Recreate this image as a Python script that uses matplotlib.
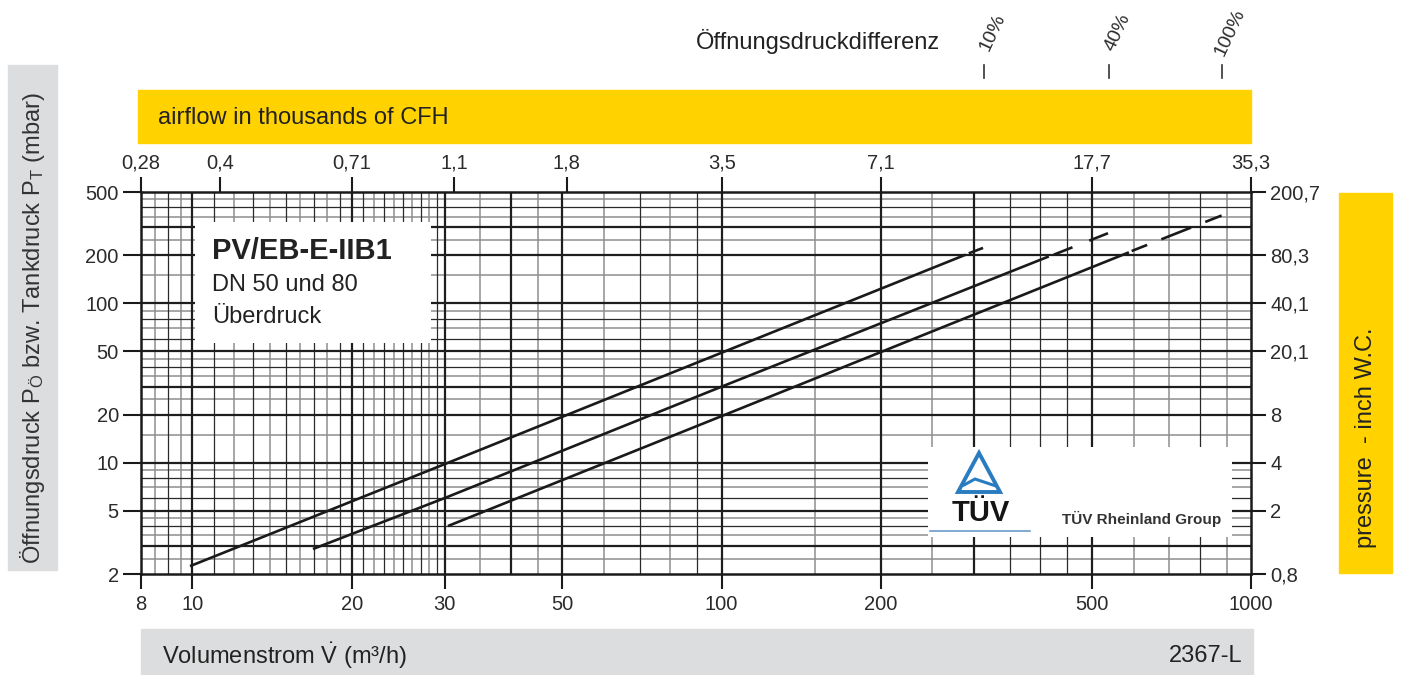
import numpy as np
import matplotlib
matplotlib.use('Agg')
import matplotlib.pyplot as plt
from matplotlib.patches import Rectangle, Polygon
from matplotlib import transforms
from matplotlib.ticker import FixedLocator, NullLocator, FixedFormatter

plt.rcParams['font.family'] = ['Liberation Sans', 'DejaVu Sans']
plt.rcParams['mathtext.fontset'] = 'custom'
plt.rcParams['mathtext.rm'] = 'Liberation Sans'
plt.rcParams['mathtext.default'] = 'regular'
plt.rcParams['lines.scale_dashes'] = False

# Values ######################################################
x_ticks = [8, 10, 20, 30, 50, 100, 200, 500, 1000]
x_labels = ['8', '10', '20', '30', '50', '100', '200', '500', '1000']
y_ticks = [2, 5, 10, 20, 50, 100, 200, 500]
y_labels = ['2', '5', '10', '20', '50', '100', '200', '500']
y_right_labels = ['0,8', '2', '4', '8', '20,1', '40,1', '80,3', '200,7']
top_ticks = [8, 11.3, 20, 31.2, 51, 100, 200, 500, 1000]
top_labels = ['0,28', '0,4', '0,71', '1,1', '1,8', '3,5', '7,1', '17,7', '35,3']

# log paper grid
x_grid_major = [10, 20, 30, 40, 50, 100, 200, 300, 500]
x_grid_black = [9, 11, 13, 15, 17, 19, 21, 23, 25, 27, 29, 70, 90, 350, 400, 450, 800]
x_grid_grey = [8.5, 9.5, 12, 14, 16, 18, 22, 24, 26, 28, 35, 45, 60, 80, 150, 250,
               600, 700, 900]
y_grid_major = [3, 5, 10, 20, 30, 50, 100, 200, 300]
y_grid_black = [4, 6, 8, 40, 60, 80, 400]
y_grid_grey = [2.5, 3.5, 4.5, 7, 9, 15, 25, 35, 45, 70, 90, 150, 250, 350, 450]

# curves: solid part and dashed end part
pct_labels = ['10%', '40%', '100%']
c10_x = [9.9, 30, 100, 289]
c10_y = [2.24, 9.8, 49, 202]
c10_dx = [293, 313]
c10_dy = [206, 224]
c40_x = [16.9, 30, 100, 415]
c40_y = [2.87, 6.0, 30, 197]
c40_dx = [424, 539]
c40_dy = [202, 277]
c100_x = [30.4, 100, 200, 588]
c100_y = [4.0, 19.6, 49.5, 209]
c100_dx = [595, 880]
c100_dy = [213, 356]
###############################################################

W, H = 1403, 675
fig = plt.figure(figsize=(W/100, H/100), dpi=100)

def fx(px):
    return px/W
def fy(py):
    return 1-py/H

yellow = '#ffd200'
grey_box = '#dcddde'
txt = '#2b2b2b'
tick_fs = 14.5
lab_fs = 17

# background bands
fig.patches.append(Rectangle((fx(138), fy(143)), 1113/W, 53/H, color=yellow,
                             transform=fig.transFigure, zorder=0))
fig.patches.append(Rectangle((fx(1339), fy(573)), 53/W, 380/H, color=yellow,
                             transform=fig.transFigure, zorder=0))
fig.patches.append(Rectangle((fx(8), fy(570)), 49/W, 505/H, color=grey_box,
                             transform=fig.transFigure, zorder=0))
fig.patches.append(Rectangle((fx(141), 0), 1112/W, 46/H, color=grey_box,
                             transform=fig.transFigure, zorder=0))

ax = fig.add_axes([fx(141), fy(574), 1110/W, 382/H])
ax.set_xscale('log')
ax.set_yscale('log')
ax.set_xlim(8, 1000)
ax.set_ylim(2, 500)

# grid
for v in x_grid_grey:
    ax.axvline(v, color='#8e8e8e', lw=1.1, zorder=1)
for v in x_grid_black:
    ax.axvline(v, color='#2a2a2a', lw=0.9, zorder=1.1)
for v in x_grid_major:
    ax.axvline(v, color='#1e1e1e', lw=1.6, zorder=1.2)
for v in y_grid_grey:
    ax.axhline(v, color='#8e8e8e', lw=1.1, zorder=1)
for v in y_grid_black:
    ax.axhline(v, color='#2a2a2a', lw=0.9, zorder=1.1)
for v in y_grid_major:
    ax.axhline(v, color='#1e1e1e', lw=1.6, zorder=1.2)

# white boxes
ax.add_patch(Rectangle((0.0486, 0.6047), 0.2126, 0.3168, transform=ax.transAxes,
                       facecolor='white', edgecolor='none', zorder=2))
ax.add_patch(Rectangle((0.709, 0.0969), 0.2739, 0.2356, transform=ax.transAxes,
                       facecolor='white', edgecolor='none', zorder=2))

# curves
lc = '#1a1a1a'
ax.plot(c10_x, c10_y, color=lc, lw=1.9, zorder=4, solid_capstyle='butt')
ax.plot(c10_dx, c10_dy, color=lc, lw=1.9, zorder=4, ls=(0, (11, 20)))
ax.plot(c40_x, c40_y, color=lc, lw=1.9, zorder=4, solid_capstyle='butt')
ax.plot(c40_dx, c40_dy, color=lc, lw=1.9, zorder=4, ls=(0, (14.5, 13)))
ax.plot(c100_x, c100_y, color=lc, lw=1.9, zorder=4, solid_capstyle='butt')
ax.plot(c100_dx, c100_dy, color=lc, lw=1.9, zorder=4, ls=(0, (12, 11, 23, 11, 13, 20)))

for s in ax.spines.values():
    s.set_linewidth(1.8)
    s.set_color('#1a1a1a')
    s.set_zorder(5)

ax.xaxis.set_major_locator(FixedLocator(x_ticks))
ax.xaxis.set_major_formatter(FixedFormatter(x_labels))
ax.xaxis.set_minor_locator(NullLocator())
ax.yaxis.set_major_locator(FixedLocator(y_ticks))
ax.yaxis.set_major_formatter(FixedFormatter(y_labels))
ax.yaxis.set_minor_locator(NullLocator())
ax.tick_params(axis='x', direction='out', length=11, width=1.5, pad=4,
               labelsize=tick_fs, labelcolor=txt, color='#1a1a1a')
ax.tick_params(axis='y', direction='out', length=13, width=1.5, pad=3,
               labelsize=tick_fs, labelcolor=txt, color='#1a1a1a')

# top axis: airflow in thousands of CFH
axt = ax.twiny()
axt.set_xscale('log')
axt.set_xlim(8, 1000)
axt.xaxis.set_major_locator(FixedLocator(top_ticks))
axt.xaxis.set_major_formatter(FixedFormatter(top_labels))
axt.xaxis.set_minor_locator(NullLocator())
axt.tick_params(axis='x', direction='out', length=11, width=1.5, pad=3,
                labelsize=tick_fs, labelcolor=txt, color='#1a1a1a')
for s in axt.spines.values():
    s.set_visible(False)

# right axis: inch W.C.
axr = ax.twinx()
axr.set_yscale('log')
axr.set_ylim(2, 500)
axr.yaxis.set_major_locator(FixedLocator(y_ticks))
axr.yaxis.set_major_formatter(FixedFormatter(y_right_labels))
axr.yaxis.set_minor_locator(NullLocator())
axr.tick_params(axis='y', direction='out', length=11, width=1.5, pad=3,
                labelsize=tick_fs, labelcolor=txt, color='#1a1a1a')
for s in axr.spines.values():
    s.set_visible(False)

# chart title block
ax.text(0.064, 0.845, 'PV/EB-E-IIB1', transform=ax.transAxes, fontsize=21,
        fontweight='bold', color='#222222', va='center', zorder=6)
ax.text(0.064, 0.757, 'DN 50 und 80', transform=ax.transAxes, fontsize=17,
        color='#222222', va='center', zorder=6)
ax.text(0.064, 0.672, 'Überdruck', transform=ax.transAxes, fontsize=17,
        color='#222222', va='center', zorder=6)

# TUV logo (approximation)
blue = '#2a7cc0'
tri = Polygon([(fx(958), fy(492)), (fx(979), fy(453)), (fx(1000), fy(492))],
              closed=True, facecolor='none', edgecolor=blue, lw=2.8,
              transform=fig.transFigure, zorder=7)
fig.patches.append(tri)
fig.lines.append(plt.Line2D([fx(964), fx(975), fx(996)], [fy(485), fy(479), fy(486)],
                            color=blue, lw=2.2, transform=fig.transFigure, zorder=7))
fig.text(fx(981), fy(513), 'TÜV', fontsize=21, fontweight='bold', color='#151515',
         ha='center', va='center', zorder=7)
fig.lines.append(plt.Line2D([fx(930), fx(1030)], [fy(531), fy(531)], color='#6a9ccc',
                            lw=1.2, transform=fig.transFigure, zorder=7))
fig.text(fx(1142), fy(519), 'TÜV Rheinland Group', fontsize=11, fontweight='bold',
         color='#333333', ha='center', va='center', zorder=7)

# opening pressure difference markers
blend = transforms.blended_transform_factory(ax.transData, fig.transFigure)
ends = [c10_dx[-1], c40_dx[-1], c100_dx[-1]]
for xe, lbl in zip(ends, pct_labels):
    ax.plot([xe, xe], [fy(65), fy(78)], color='#333333', lw=1.2,
            transform=blend, clip_on=False)
    ax.annotate(lbl, xy=(xe, fy(32)), xycoords=blend, xytext=(6, 0),
                textcoords='offset points', rotation=65, ha='center',
                va='center', fontsize=14, color=txt, annotation_clip=False)

fig.text(fx(940), fy(42), 'Öffnungsdruckdifferenz', fontsize=lab_fs, color='#222222',
         ha='right', va='center')
fig.text(fx(158), fy(118), 'airflow in thousands of CFH', fontsize=lab_fs,
         color='#222222', ha='left', va='center')
fig.text(fx(1366), fy(438), 'pressure  - inch W.C.', fontsize=lab_fs, color='#222222',
         ha='center', va='center', rotation=90)
fig.text(fx(33), fy(328), 'Öffnungsdruck P$_{Ö}$ bzw. Tankdruck P$_{T}$ (mbar)',
         fontsize=lab_fs, color='#333333', ha='center', va='center', rotation=90)
fig.text(fx(162), fy(656), r'Volumenstrom $\dot{V}$ (m³/h)', fontsize=lab_fs,
         color='#222222', ha='left', va='center')
fig.text(fx(1243), fy(656), '2367-L', fontsize=lab_fs, color='#222222',
         ha='right', va='center')

fig.savefig('out.png', dpi=100)
